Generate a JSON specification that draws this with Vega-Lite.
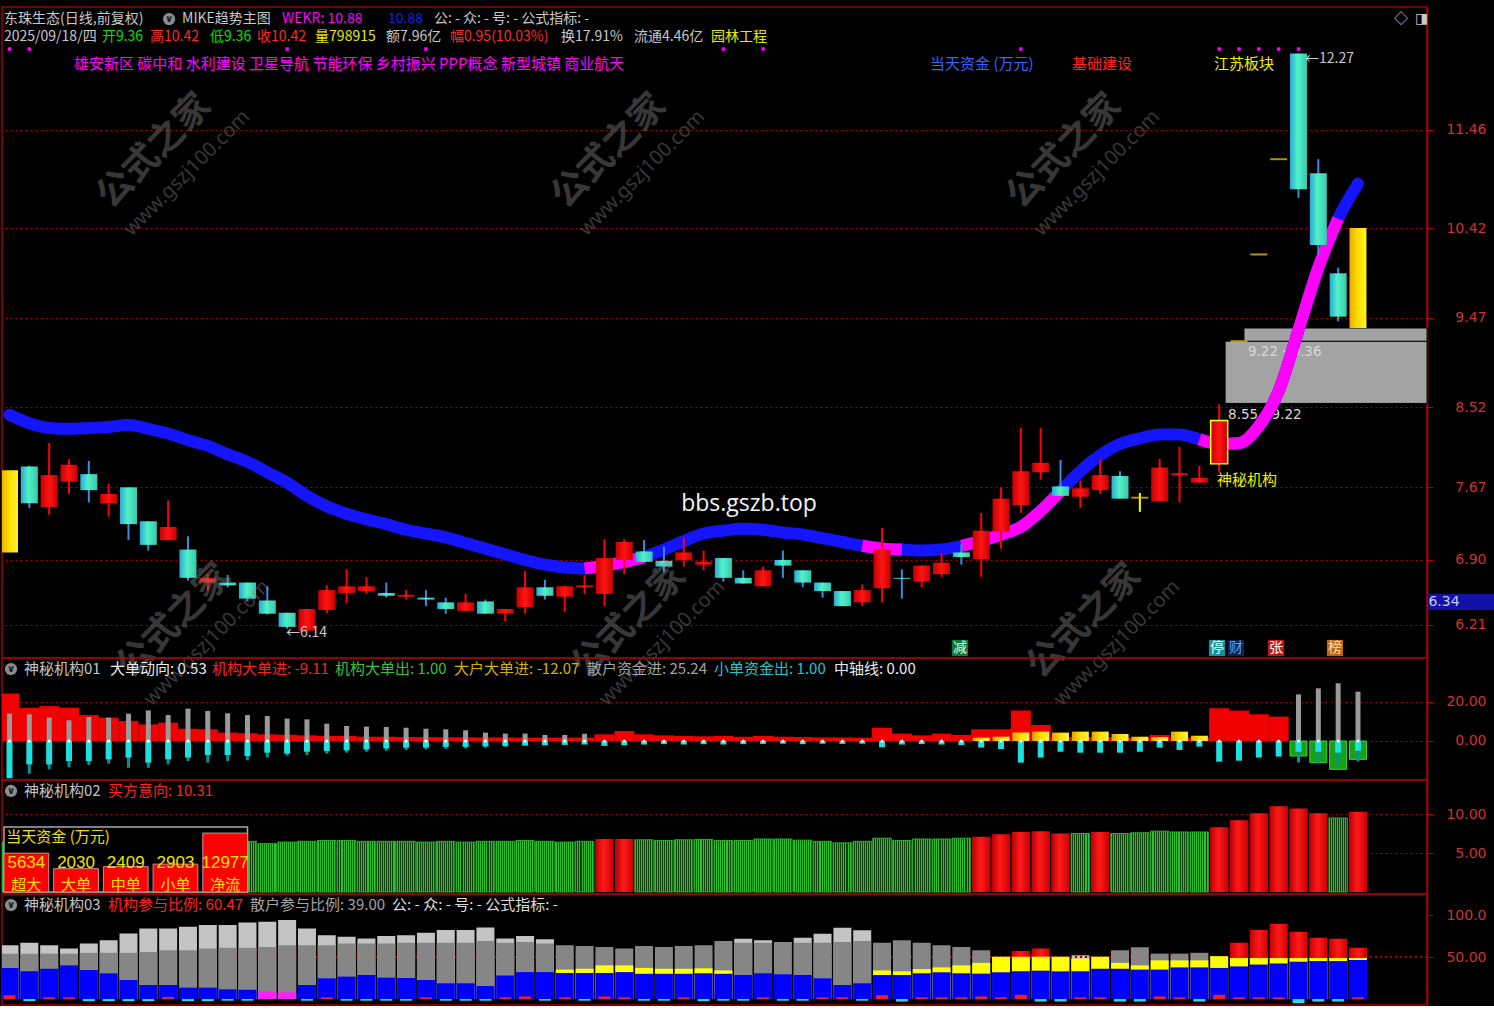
{
"$schema":"https://vega.github.io/schema/vega-lite/v6.json",
"background":"#000000",
"padding":{"left":0,"top":6,"right":0,"bottom":0},
"bounds":"flush",
"spacing":0,
"config":{
 "view":{"stroke":"#a00000","strokeWidth":1.5},
 "scale":{"continuousPadding":0},
 "axis":{"labelColor":"#d03030","labelFont":"DejaVu Sans","labelFontSize":14,"domainColor":"#b00000","domainWidth":1.5,"tickColor":"#b00000","tickSize":6,"gridColor":"#a80000","gridDash":[2,3],"gridWidth":1,"labelAlign":"right","labelPadding":53},
 "text":{"font":"Noto Sans CJK SC"}
},
"datasets":{
 "candles":[
  {"i":0,"o":6.98,"h":7.85,"l":6.98,"c":7.85,"t":"gold"},
  {"i":1,"o":7.89,"h":7.90,"l":7.45,"c":7.50,"t":"down"},
  {"i":2,"o":7.46,"h":8.14,"l":7.38,"c":7.80,"t":"up"},
  {"i":3,"o":7.73,"h":7.97,"l":7.60,"c":7.91,"t":"up"},
  {"i":4,"o":7.81,"h":7.95,"l":7.51,"c":7.64,"t":"down"},
  {"i":5,"o":7.50,"h":7.71,"l":7.36,"c":7.60,"t":"up"},
  {"i":6,"o":7.67,"h":7.67,"l":7.11,"c":7.28,"t":"down"},
  {"i":7,"o":7.31,"h":7.31,"l":7.00,"c":7.06,"t":"down"},
  {"i":8,"o":7.11,"h":7.53,"l":7.11,"c":7.25,"t":"up"},
  {"i":9,"o":7.01,"h":7.15,"l":6.68,"c":6.71,"t":"down"},
  {"i":10,"o":6.66,"h":6.75,"l":6.58,"c":6.71,"t":"up"},
  {"i":11,"o":6.66,"h":6.74,"l":6.61,"c":6.63,"t":"down"},
  {"i":12,"o":6.66,"h":6.66,"l":6.46,"c":6.49,"t":"down"},
  {"i":13,"o":6.47,"h":6.62,"l":6.32,"c":6.33,"t":"down"},
  {"i":14,"o":6.34,"h":6.34,"l":6.17,"c":6.19,"t":"down"},
  {"i":15,"o":6.15,"h":6.38,"l":6.14,"c":6.38,"t":"up"},
  {"i":16,"o":6.37,"h":6.63,"l":6.34,"c":6.58,"t":"up"},
  {"i":17,"o":6.55,"h":6.80,"l":6.44,"c":6.62,"t":"up"},
  {"i":18,"o":6.57,"h":6.72,"l":6.54,"c":6.62,"t":"up"},
  {"i":19,"o":6.55,"h":6.66,"l":6.50,"c":6.52,"t":"down"},
  {"i":20,"o":6.51,"h":6.58,"l":6.48,"c":6.53,"t":"up"},
  {"i":21,"o":6.50,"h":6.58,"l":6.41,"c":6.48,"t":"down"},
  {"i":22,"o":6.45,"h":6.50,"l":6.33,"c":6.38,"t":"down"},
  {"i":23,"o":6.36,"h":6.54,"l":6.36,"c":6.45,"t":"up"},
  {"i":24,"o":6.46,"h":6.48,"l":6.33,"c":6.33,"t":"down"},
  {"i":25,"o":6.33,"h":6.38,"l":6.25,"c":6.38,"t":"up"},
  {"i":26,"o":6.40,"h":6.78,"l":6.33,"c":6.61,"t":"up"},
  {"i":27,"o":6.61,"h":6.69,"l":6.48,"c":6.52,"t":"down"},
  {"i":28,"o":6.51,"h":6.62,"l":6.35,"c":6.62,"t":"up"},
  {"i":29,"o":6.61,"h":6.74,"l":6.54,"c":6.63,"t":"up"},
  {"i":30,"o":6.54,"h":7.12,"l":6.41,"c":6.92,"t":"up"},
  {"i":31,"o":6.90,"h":7.12,"l":6.75,"c":7.09,"t":"up"},
  {"i":32,"o":6.99,"h":7.11,"l":6.88,"c":6.88,"t":"down"},
  {"i":33,"o":6.89,"h":7.04,"l":6.77,"c":6.83,"t":"down"},
  {"i":34,"o":6.90,"h":7.14,"l":6.83,"c":6.98,"t":"up"},
  {"i":35,"o":6.85,"h":7.00,"l":6.79,"c":6.88,"t":"up"},
  {"i":36,"o":6.92,"h":6.92,"l":6.67,"c":6.71,"t":"down"},
  {"i":37,"o":6.71,"h":6.79,"l":6.65,"c":6.65,"t":"down"},
  {"i":38,"o":6.62,"h":6.83,"l":6.62,"c":6.79,"t":"up"},
  {"i":39,"o":6.90,"h":7.00,"l":6.71,"c":6.84,"t":"down"},
  {"i":40,"o":6.79,"h":6.79,"l":6.61,"c":6.66,"t":"down"},
  {"i":41,"o":6.66,"h":6.66,"l":6.50,"c":6.57,"t":"down"},
  {"i":42,"o":6.57,"h":6.57,"l":6.41,"c":6.41,"t":"down"},
  {"i":43,"o":6.45,"h":6.64,"l":6.41,"c":6.58,"t":"up"},
  {"i":44,"o":6.60,"h":7.24,"l":6.45,"c":7.01,"t":"up"},
  {"i":45,"o":6.71,"h":6.80,"l":6.49,"c":6.70,"t":"down"},
  {"i":46,"o":6.67,"h":6.84,"l":6.61,"c":6.84,"t":"up"},
  {"i":47,"o":6.75,"h":6.97,"l":6.72,"c":6.87,"t":"up"},
  {"i":48,"o":6.98,"h":7.07,"l":6.85,"c":6.93,"t":"down"},
  {"i":49,"o":6.91,"h":7.40,"l":6.72,"c":7.21,"t":"up"},
  {"i":50,"o":7.20,"h":7.67,"l":7.02,"c":7.55,"t":"up"},
  {"i":51,"o":7.48,"h":8.30,"l":7.40,"c":7.84,"t":"up"},
  {"i":52,"o":7.83,"h":8.30,"l":7.75,"c":7.93,"t":"up"},
  {"i":53,"o":7.68,"h":7.96,"l":7.58,"c":7.58,"t":"down"},
  {"i":54,"o":7.57,"h":7.74,"l":7.45,"c":7.66,"t":"up"},
  {"i":55,"o":7.64,"h":7.96,"l":7.60,"c":7.80,"t":"up"},
  {"i":56,"o":7.79,"h":7.84,"l":7.55,"c":7.55,"t":"down"},
  {"i":57,"o":7.56,"h":7.61,"l":7.41,"c":7.56,"t":"doji"},
  {"i":58,"o":7.52,"h":7.97,"l":7.52,"c":7.88,"t":"up"},
  {"i":59,"o":7.80,"h":8.10,"l":7.51,"c":7.82,"t":"up"},
  {"i":60,"o":7.72,"h":7.90,"l":7.72,"c":7.77,"t":"up"},
  {"i":61,"o":7.92,"h":8.55,"l":7.83,"c":8.38,"t":"up"},
  {"i":62,"o":9.22,"h":9.22,"l":9.22,"c":9.22,"t":"flat"},
  {"i":63,"o":10.14,"h":10.14,"l":10.14,"c":10.14,"t":"flat"},
  {"i":64,"o":11.15,"h":11.15,"l":11.15,"c":11.15,"t":"flat"},
  {"i":65,"o":12.27,"h":12.27,"l":10.74,"c":10.83,"t":"down"},
  {"i":66,"o":11.00,"h":11.15,"l":10.14,"c":10.24,"t":"down"},
  {"i":67,"o":9.94,"h":10.00,"l":9.43,"c":9.48,"t":"down"},
  {"i":68,"o":9.36,"h":10.42,"l":9.36,"c":10.42,"t":"gold"}
 ],
 "ma":[
  {"i":0,"v":8.44},{"i":1,"v":8.35},{"i":2,"v":8.30},{"i":3,"v":8.29},{"i":4,"v":8.30},{"i":5,"v":8.31},{"i":6,"v":8.33},{"i":7,"v":8.29},{"i":8,"v":8.24},{"i":9,"v":8.17},
  {"i":10,"v":8.11},{"i":11,"v":8.02},{"i":12,"v":7.94},{"i":13,"v":7.83},{"i":14,"v":7.72},{"i":15,"v":7.58},{"i":16,"v":7.47},{"i":17,"v":7.39},{"i":18,"v":7.33},{"i":19,"v":7.28},
  {"i":20,"v":7.22},{"i":21,"v":7.18},{"i":22,"v":7.14},{"i":23,"v":7.08},{"i":24,"v":7.02},{"i":25,"v":6.96},{"i":26,"v":6.90},{"i":27,"v":6.85},{"i":28,"v":6.82},
  {"i":29,"v":6.81,"s":"a"},{"i":30,"v":6.84,"s":"a"},{"i":31,"v":6.88,"s":"a"},{"i":32,"v":6.93,"s":"a"},
  {"i":33,"v":7.01},{"i":34,"v":7.10},{"i":35,"v":7.18},{"i":36,"v":7.21},{"i":37,"v":7.23},{"i":38,"v":7.22},{"i":39,"v":7.19},{"i":40,"v":7.17},{"i":41,"v":7.13},{"i":42,"v":7.09},
  {"i":43,"v":7.05,"s":"b"},{"i":44,"v":7.02,"s":"b"},{"i":45,"v":7.01,"s":"b"},
  {"i":46,"v":7.00},{"i":47,"v":7.01},
  {"i":48,"v":7.05,"s":"c"},{"i":49,"v":7.10,"s":"c"},{"i":50,"v":7.17,"s":"c"},{"i":51,"v":7.25,"s":"c"},{"i":52,"v":7.42,"s":"c"},{"i":53,"v":7.63,"s":"c"},
  {"i":54,"v":7.84},{"i":55,"v":8.01},{"i":56,"v":8.13},{"i":57,"v":8.19},{"i":58,"v":8.23},{"i":59,"v":8.23},
  {"i":60,"v":8.18,"s":"d"},{"i":61,"v":8.13,"s":"d"},{"i":62,"v":8.14,"s":"d"},{"i":63,"v":8.32,"s":"d"},{"i":64,"v":8.69,"s":"d"},{"i":65,"v":9.34,"s":"d"},{"i":66,"v":10.0,"s":"d"},{"i":67,"v":10.52,"s":"d"},
  {"i":68,"v":10.89}
 ],
 "gaps":[{"i":61.3,"i2":71.48,"lo":8.56,"hi":9.22},{"i":62.25,"i2":71.48,"lo":9.22,"hi":9.36}],
 "gapText":[{"t":"8.55 - 9.22","i":61.45,"p":8.437},{"t":"9.22 - 9.36","i":62.45,"p":9.105}],
 "hdr":[
  {"t":"东珠生态(日线,前复权)","i":-0.277,"p":12.636,"k":"info"},
  {"t":"MIKE趋势主图","i":8.70,"p":12.636,"k":"info"},
  {"t":"WEKR: 10.88","i":13.74,"p":12.636,"k":"mag"},
  {"t":"10.88","i":19.09,"p":12.636,"k":"blue"},
  {"t":"公: - 众: - 号: - 公式指标: -","i":21.41,"p":12.636,"k":"info"},
  {"t":"2025/09/18/四","i":-0.277,"p":12.445,"k":"info"},
  {"t":"开9.36","i":4.66,"p":12.445,"k":"fall"},
  {"t":"高10.42","i":7.085,"p":12.445,"k":"rise"},
  {"t":"低9.36","i":10.11,"p":12.445,"k":"fall"},
  {"t":"收10.42","i":12.48,"p":12.445,"k":"rise"},
  {"t":"量798915","i":15.41,"p":12.445,"k":"gold"},
  {"t":"额7.96亿","i":18.99,"p":12.445,"k":"info"},
  {"t":"幅0.95(10.03%)","i":22.21,"p":12.445,"k":"rise"},
  {"t":"换17.91%","i":27.81,"p":12.445,"k":"info"},
  {"t":"流通4.46亿","i":31.49,"p":12.445,"k":"info"},
  {"t":"园林工程","i":35.37,"p":12.445,"k":"gold"},
  {"t":"←12.27","i":65.33,"p":12.21,"k":"info"},
  {"t":"←6.14","i":13.94,"p":6.125,"k":"info"},
  {"t":"◇","i":69.82,"p":12.636,"k":"info"},
  {"t":"◨","i":70.88,"p":12.636,"k":"info"}
 ],
 "tags":[
  {"t":"雄安新区 碳中和 水利建设 卫星导航 节能环保 乡村振兴 PPP概念 新型城镇 商业航天","i":3.25,"p":12.159,"k":"mag"},
  {"t":"当天资金 (万元)","i":46.42,"p":12.159,"k":"fund"},
  {"t":"基础建设","i":53.58,"p":12.159,"k":"rise"},
  {"t":"江苏板块","i":60.74,"p":12.159,"k":"gold"},
  {"t":"神秘机构","i":60.89,"p":7.748,"k":"gold"}
 ],
 "bbs":[{"t":"bbs.gszb.top","i":37.29,"p":7.493}],
 "dots":[{"i":0},{"i":1},{"i":14},{"i":21},{"i":36},{"i":38},{"i":51},{"i":61},{"i":62},{"i":63},{"i":64},{"i":65}],
 "sig":[{"t":"减","i":47.93,"k":"reduce"},{"t":"停","i":60.89,"k":"halt"},{"t":"财","i":61.85,"k":"fin"},{"t":"张","i":63.87,"k":"up"},{"t":"榜","i":66.84,"k":"list"}],
 "wmBig":[{"t":"公式之家","i":7.29,"p":11.237},{"t":"公式之家","i":30.23,"p":11.237},{"t":"公式之家","i":53.18,"p":11.237},{"t":"公式之家","i":8.30,"p":6.253},{"t":"公式之家","i":31.24,"p":6.253},{"t":"公式之家","i":54.19,"p":6.253}],
 "wmUrl":[{"t":"www.gszj100.com","i":8.95,"p":11.003},{"t":"www.gszj100.com","i":31.90,"p":11.003},{"t":"www.gszj100.com","i":54.84,"p":11.003},{"t":"www.gszj100.com","i":9.96,"p":6.019},{"t":"www.gszj100.com","i":32.91,"p":6.019},{"t":"www.gszj100.com","i":55.85,"p":6.019}],
 "cursor":[{"i":71.55,"i2":74.9,"lo":6.369,"hi":6.539,"t":"6.34","m":6.454}],
 "p1":[
  {"i":0,"r":24.3,"g":14.0,"c":-19.1},
  {"i":1,"r":17.1,"g":13.7,"c":-12.0,"d":-16.8},
  {"i":2,"r":17.9,"g":12.0,"c":-12.0,"d":-14.5},
  {"i":3,"r":17.1,"g":10.6,"c":-10.3,"d":-13.5},
  {"i":4,"r":13.3,"g":12.3,"c":-10.3,"d":-12.3},
  {"i":5,"r":12.0,"g":12.0,"c":-9.4,"d":-11.6},
  {"i":6,"r":10.3,"g":14.0,"c":-8.5,"d":-13.7},
  {"i":7,"r":8.5,"g":15.7,"c":-11.1,"d":-13.7},
  {"i":8,"r":9.4,"g":13.3,"c":-9.4,"d":-12.0},
  {"i":9,"r":6.3,"g":16.6,"c":-8.5,"d":-10.3},
  {"i":10,"r":6.0,"g":15.4,"c":-7.2,"d":-11.1},
  {"i":11,"r":4.3,"g":14.2,"c":-7.2,"d":-10.3},
  {"i":12,"r":4.0,"g":13.3,"c":-7.7,"d":-9.9},
  {"i":13,"r":3.4,"g":12.8,"c":-6.0,"d":-8.5},
  {"i":14,"r":3.2,"g":11.5,"c":-6.5,"d":-7.5},
  {"i":15,"r":2.9,"g":11.1,"c":-5.5,"d":-7.2},
  {"i":16,"r":2.6,"g":8.9,"c":-5.1,"d":-6.5},
  {"i":17,"r":2.6,"g":7.7,"c":-4.8,"d":-6.0},
  {"i":18,"r":2.2,"g":7.4,"c":-4.3,"d":-5.5},
  {"i":19,"r":2.2,"g":7.2,"c":-3.8,"d":-5.0},
  {"i":20,"r":2.0,"g":6.8,"c":-3.4,"d":-4.6},
  {"i":21,"r":2.0,"g":6.3,"c":-3.4,"d":-4.3},
  {"i":22,"r":1.9,"g":6.0,"c":-3.0,"d":-4.0},
  {"i":23,"r":1.9,"g":5.5,"c":-3.0,"d":-3.8},
  {"i":24,"r":1.8,"g":4.3,"c":-2.8,"d":-3.4},
  {"i":25,"r":1.8,"g":3.8,"c":-2.6,"d":-3.0},
  {"i":26,"r":1.7,"g":3.8,"c":-2.4},
  {"i":27,"r":1.7,"g":3.1,"c":-2.2},
  {"i":28,"r":1.7,"g":3.1,"c":-2.0},
  {"i":29,"r":1.7,"g":3.7,"c":-1.8},
  {"i":30,"r":3.4,"c":-2.5},
  {"i":31,"r":5.1,"c":-2.2},
  {"i":32,"r":3.4,"c":-1.8},
  {"i":33,"r":2.9,"c":-1.6},
  {"i":34,"r":2.6,"c":-1.8},
  {"i":35,"r":2.4,"c":-1.6},
  {"i":36,"r":2.6,"c":-1.8},
  {"i":37,"r":2.2,"c":-1.6},
  {"i":38,"r":2.6,"c":-1.5},
  {"i":39,"r":2.2,"c":-1.4},
  {"i":40,"r":2.0,"c":-1.6},
  {"i":41,"r":1.8,"c":-1.4},
  {"i":42,"r":1.8,"c":-1.5},
  {"i":43,"r":1.7,"c":-1.4},
  {"i":44,"r":6.8,"c":-3.2},
  {"i":45,"r":3.8,"c":-1.8},
  {"i":46,"r":2.9,"c":-1.6},
  {"i":47,"r":3.8,"c":-1.8},
  {"i":48,"r":3.1,"c":-2.1},
  {"i":49,"r":6.0,"yb":1.7,"c":-3.4},
  {"i":50,"r":6.0,"yb":2.2,"c":-4.1},
  {"i":51,"r":15.6,"yb":4.3,"c":-11.1},
  {"i":52,"r":8.2,"yb":4.8,"c":-8.5},
  {"i":53,"r":2.0,"yb":4.3,"c":-5.5},
  {"i":54,"r":2.0,"yb":4.8,"c":-6.0},
  {"i":55,"r":2.0,"yb":4.8,"c":-6.0},
  {"i":56,"r":1.8,"yb":3.6,"c":-6.0},
  {"i":57,"r":1.5,"yb":2.2,"c":-5.5},
  {"i":58,"r":3.1,"yb":2.0,"c":-3.4},
  {"i":59,"r":1.8,"yb":4.8,"c":-4.6},
  {"i":60,"r":1.5,"yb":2.7,"c":-2.9},
  {"i":61,"r":16.8,"c":-10.6},
  {"i":62,"r":15.6,"c":-10.1},
  {"i":63,"r":13.7,"c":-8.5},
  {"i":64,"r":12.5,"c":-8.0},
  {"i":65,"g":23.9,"gn":-7.7,"c":-5.5,"d":-11.0},
  {"i":66,"g":27.0,"gn":-11.1,"c":-5.5,"d":-11.5},
  {"i":67,"g":29.6,"gn":-14.5,"c":-6.0,"d":-12.5},
  {"i":68,"g":25.3,"gn":-9.4,"c":-5.0,"d":-10.5}
 ],
 "p1text":[{"t":"神秘机构01","i":0.731,"k":"title"},{"t":"大单动向: 0.53","i":5.07,"k":"white"},{"t":"机构大单进: -9.11","i":10.21,"k":"red"},{"t":"机构大单出: 1.00","i":16.41,"k":"green"},{"t":"大户大单进: -12.07","i":22.42,"k":"gold"},{"t":"散户资金进: 25.24","i":29.12,"k":"gray"},{"t":"小单资金出: 1.00","i":35.53,"k":"cyan"},{"t":"中轴线: 0.00","i":41.58,"k":"white"}],
 "p2":[
  {"i":0,"v":6.4,"k":"g"},{"i":1,"v":6.4,"k":"g"},{"i":2,"v":6.4,"k":"g"},{"i":3,"v":6.4,"k":"g"},{"i":4,"v":6.4,"k":"g"},{"i":5,"v":6.4,"k":"g"},{"i":6,"v":6.4,"k":"g"},{"i":7,"v":6.4,"k":"g"},{"i":8,"v":6.4,"k":"g"},{"i":9,"v":6.4,"k":"g"},{"i":10,"v":6.4,"k":"g"},{"i":11,"v":6.4,"k":"g"},
  {"i":12,"v":6.5,"k":"g"},{"i":13,"v":6.2,"k":"g"},{"i":14,"v":6.4,"k":"g"},{"i":15,"v":6.5,"k":"g"},{"i":16,"v":6.6,"k":"g"},{"i":17,"v":6.6,"k":"g"},{"i":18,"v":6.5,"k":"g"},{"i":19,"v":6.5,"k":"g"},{"i":20,"v":6.5,"k":"g"},{"i":21,"v":6.4,"k":"g"},
  {"i":22,"v":6.5,"k":"g"},{"i":23,"v":6.4,"k":"g"},{"i":24,"v":6.5,"k":"g"},{"i":25,"v":6.5,"k":"g"},{"i":26,"v":6.6,"k":"g"},{"i":27,"v":6.5,"k":"g"},{"i":28,"v":6.4,"k":"g"},{"i":29,"v":6.5,"k":"g"},
  {"i":30,"v":6.8,"k":"r"},{"i":31,"v":6.8,"k":"r"},{"i":32,"v":6.7,"k":"g"},{"i":33,"v":6.6,"k":"g"},{"i":34,"v":6.7,"k":"g"},{"i":35,"v":6.75,"k":"g"},{"i":36,"v":6.6,"k":"g"},{"i":37,"v":6.6,"k":"g"},{"i":38,"v":6.8,"k":"g"},{"i":39,"v":6.8,"k":"g"},
  {"i":40,"v":6.65,"k":"g"},{"i":41,"v":6.5,"k":"g"},{"i":42,"v":6.3,"k":"g"},{"i":43,"v":6.5,"k":"g"},{"i":44,"v":6.9,"k":"g"},{"i":45,"v":6.6,"k":"g"},{"i":46,"v":6.8,"k":"g"},{"i":47,"v":6.8,"k":"g"},{"i":48,"v":6.9,"k":"g"},
  {"i":49,"v":7.1,"k":"r"},{"i":50,"v":7.4,"k":"r"},{"i":51,"v":7.7,"k":"r"},{"i":52,"v":7.8,"k":"r"},{"i":53,"v":7.5,"k":"r"},{"i":54,"v":7.5,"k":"g"},{"i":55,"v":7.7,"k":"r"},{"i":56,"v":7.5,"k":"g"},{"i":57,"v":7.6,"k":"g"},{"i":58,"v":7.8,"k":"g"},{"i":59,"v":7.7,"k":"g"},{"i":60,"v":7.7,"k":"g"},
  {"i":61,"v":8.3,"k":"r"},{"i":62,"v":9.2,"k":"r"},{"i":63,"v":10.1,"k":"r"},{"i":64,"v":11.0,"k":"r"},{"i":65,"v":10.7,"k":"r"},{"i":66,"v":10.1,"k":"r"},{"i":67,"v":9.5,"k":"g"},{"i":68,"v":10.3,"k":"r"}
 ],
 "p2text":[{"t":"神秘机构02","i":0.731,"k":"title"},{"t":"买方意向: 10.31","i":4.97,"k":"red"}],
 "mini":[{"k":"超大","v":5634},{"k":"大单","v":2030},{"k":"中单","v":2409},{"k":"小单","v":2903},{"k":"净流","v":12977}],
 "p3":[
  {"i":0,"b":37,"g":54,"l":64,"mk":"r","mv":4.5},
  {"i":1,"b":33,"g":54,"l":67,"mk":"c","mv":-2.5},
  {"i":2,"b":36,"g":54,"l":64,"mk":"r","mv":2},
  {"i":3,"b":40,"g":54,"l":60,"mk":"r","mv":2},
  {"i":4,"b":34.5,"g":55,"l":66,"mk":"c","mv":-2.5},
  {"i":5,"b":30.5,"g":55,"l":70,"mk":"c","mv":-2.5},
  {"i":6,"b":22.6,"g":55,"l":78,"mk":"c","mv":-2.5},
  {"i":7,"b":16.7,"g":56,"l":84,"mk":"c","mv":-2.5},
  {"i":8,"b":16.7,"g":58,"l":84,"mk":"r","mv":2.5},
  {"i":9,"b":13.5,"g":58,"l":86,"mk":"c","mv":-2.5},
  {"i":10,"b":13.5,"g":60,"l":88,"mk":"c","mv":-2.5},
  {"i":11,"b":11.5,"g":61,"l":88,"mk":"c","mv":-2},
  {"i":12,"b":11,"g":61,"l":91,"mk":"c","mv":-2},
  {"i":13,"g":62,"l":92,"mk":"m","mv":9.5},
  {"i":14,"g":64,"l":94,"mk":"m","mv":8},
  {"i":15,"b":16.7,"g":64,"l":84,"mk":"c","mv":-2},
  {"i":16,"b":24.6,"g":64,"l":76,"mk":"r","mv":2},
  {"i":17,"b":26.6,"g":66,"l":74,"mk":"c","mv":-2},
  {"i":18,"b":28.6,"g":66,"l":72,"mk":"c","mv":-2},
  {"i":19,"b":25.4,"g":66,"l":75,"mk":"c","mv":-2},
  {"i":20,"b":25,"g":67,"l":76,"mk":"c","mv":-2},
  {"i":21,"b":22.6,"g":67,"l":79,"mk":"r","mv":2},
  {"i":22,"b":18.7,"g":67,"l":82,"mk":"c","mv":-2},
  {"i":23,"b":18.7,"g":67,"l":82,"mk":"c","mv":-2},
  {"i":24,"b":15.5,"g":69,"l":85,"mk":"c","mv":-2},
  {"i":25,"b":28,"g":67,"l":72,"mk":"r","mv":2},
  {"i":26,"b":32,"g":68,"l":75,"mk":"r","mv":3},
  {"i":27,"b":32,"g":66,"l":71,"mk":"c","mv":-2},
  {"i":28,"b":31,"y":35,"g":64,"mk":"r","mv":2},
  {"i":29,"b":31,"y":36,"g":63,"mk":"c","mv":-2},
  {"i":30,"b":31,"y":40,"g":62,"mk":"r","mv":3},
  {"i":31,"b":32,"y":40,"g":60,"mk":"r","mv":2},
  {"i":32,"b":30,"y":37,"g":63,"mk":"c","mv":-2},
  {"i":33,"b":30,"y":36,"g":62,"mk":"c","mv":-2},
  {"i":34,"b":30,"y":36,"g":63,"mk":"r","mv":2},
  {"i":35,"b":30.6,"y":36.5,"g":64,"mk":"c","mv":-2.5},
  {"i":36,"b":30,"y":34,"g":69,"mk":"c","mv":-2},
  {"i":37,"b":28.6,"g":67,"l":71.8,"mk":"c","mv":-2},
  {"i":38,"b":30.6,"g":67,"l":70,"mk":"r","mv":2},
  {"i":39,"b":29.4,"g":68,"mk":"c","mv":-2},
  {"i":40,"b":28.6,"g":67,"l":73,"mk":"c","mv":-2},
  {"i":41,"b":24.6,"g":67,"l":77.8,"mk":"r","mv":2},
  {"i":42,"b":16.7,"g":67.9,"l":84.9,"mk":"r","mv":2},
  {"i":43,"b":18.7,"g":69,"l":81.7,"mk":"c","mv":-2},
  {"i":44,"b":28.6,"y":34,"g":67,"mk":"r","mv":4.5},
  {"i":45,"b":28.6,"y":32.9,"g":69.8,"mk":"c","mv":-3},
  {"i":46,"b":30.6,"y":35.6,"g":67,"mk":"r","mv":2},
  {"i":47,"b":31.8,"y":37.6,"g":64,"mk":"r","mv":2},
  {"i":48,"b":30.6,"y":40,"g":62,"mk":"r","mv":2},
  {"i":49,"b":30.2,"y":43,"g":58,"mk":"r","mv":3},
  {"i":50,"b":31.8,"y":50.4,"mk":"r","mv":2},
  {"i":51,"b":32.9,"y":50.4,"r":57,"mk":"r","mv":5},
  {"i":52,"b":33.7,"y":50.4,"r":60,"mk":"c","mv":-3},
  {"i":53,"b":32.9,"y":50.4,"mk":"c","mv":-3},
  {"i":54,"b":33,"y":48,"l":52,"mk":"r","mv":2},
  {"i":55,"b":36,"y":50.4,"mk":"r","mv":2},
  {"i":56,"b":36,"y":43,"g":58,"mk":"c","mv":-3},
  {"i":57,"b":35,"y":40,"g":61.5,"mk":"c","mv":-3},
  {"i":58,"b":35,"y":46,"g":54,"mk":"r","mv":3},
  {"i":59,"b":37.6,"y":46,"g":54,"mk":"r","mv":2},
  {"i":60,"b":37.6,"y":46,"g":55,"mk":"c","mv":-3},
  {"i":61,"b":37,"y":51,"mk":"r","mv":5},
  {"i":62,"b":38.8,"y":48.8,"r":67,"mk":"r","mv":2},
  {"i":63,"b":41,"y":48.8,"r":82,"mk":"r","mv":2},
  {"i":64,"b":42.3,"y":48.8,"r":89.6,"mk":"r","mv":2},
  {"i":65,"b":44.4,"y":48.8,"r":80,"mk":"c","mv":-5},
  {"i":66,"b":45.2,"y":48.8,"r":73,"mk":"c","mv":-3},
  {"i":67,"b":45.2,"y":48.8,"r":71.8,"mk":"c","mv":-3},
  {"i":68,"b":46.4,"y":48.8,"r":61,"mk":"r","mv":2}
 ],
 "p3text":[{"t":"神秘机构03","i":0.731,"k":"title"},{"t":"机构参与比例: 60.47","i":4.97,"k":"red"},{"t":"散户参与比例: 39.00","i":12.13,"k":"gray"},{"t":"公: - 众: - 号: - 公式指标: -","i":19.29,"k":"white"}]
},
"vconcat":[
 {
  "width":1425,"height":651,
  "resolve":{"scale":{"color":"independent"}},
  "layer":[
   {"data":{"name":"gaps"},"mark":{"type":"rect","fill":"#a3a3a3","stroke":"#000000","strokeWidth":1},
    "encoding":{"x":{"field":"i","type":"quantitative","scale":{"domain":[-0.378,71.48],"nice":false,"zero":false},"axis":null},"x2":{"field":"i2"},
     "y":{"field":"lo","type":"quantitative","scale":{"domain":[5.86,12.764],"nice":false,"zero":false},"axis":{"orient":"right","values":[6.21,6.9,7.67,8.52,9.47,10.42,11.46],"format":".2f","grid":true,"title":null}},"y2":{"field":"hi"}}},
   {"data":{"name":"gapText"},"mark":{"type":"text","align":"left","baseline":"middle","fontSize":13.5,"font":"DejaVu Sans","color":"#d8d8d8"},
    "encoding":{"x":{"field":"i","type":"quantitative","scale":{"domain":[-0.378,71.48],"nice":false,"zero":false},"axis":null},"y":{"field":"p","type":"quantitative","scale":{"domain":[5.86,12.764],"nice":false,"zero":false}},"text":{"field":"t"}}},
   {"data":{"name":"ma"},"mark":{"type":"line","stroke":"#1414ff","strokeWidth":12,"strokeCap":"round","strokeJoin":"round","interpolate":"monotone"},
    "encoding":{"x":{"field":"i","type":"quantitative","scale":{"domain":[-0.378,71.48],"nice":false,"zero":false},"axis":null},"y":{"field":"v","type":"quantitative","scale":{"domain":[5.86,12.764],"nice":false,"zero":false}}}},
   {"data":{"name":"ma"},"transform":[{"filter":"isValid(datum.s)"}],"mark":{"type":"line","stroke":"#ff00ff","strokeWidth":12,"strokeCap":"butt","strokeJoin":"round","interpolate":"monotone"},
    "encoding":{"x":{"field":"i","type":"quantitative","scale":{"domain":[-0.378,71.48],"nice":false,"zero":false},"axis":null},"y":{"field":"v","type":"quantitative","scale":{"domain":[5.86,12.764],"nice":false,"zero":false}},"detail":{"field":"s"}}},
   {"data":{"name":"candles"},"transform":[{"filter":"datum.t != 'flat' && datum.t != 'gold'"}],"mark":{"type":"rule","strokeWidth":2},
    "encoding":{"x":{"field":"i","type":"quantitative","scale":{"domain":[-0.378,71.48],"nice":false,"zero":false},"axis":null},"y":{"field":"l","type":"quantitative","scale":{"domain":[5.86,12.764],"nice":false,"zero":false}},"y2":{"field":"h"},
     "color":{"field":"t","type":"nominal","scale":{"domain":["up","down","doji"],"range":["#ff0000","#3a8ce0","#ffff00"]},"legend":null}}},
   {"data":{"name":"candles"},"transform":[{"filter":"datum.t == 'up'"}],"mark":{"type":"bar","width":17,"clip":true,"fill":{"gradient":"linear","x1":0,"y1":0,"x2":1,"y2":0,"stops":[{"offset":0,"color":"#c80000"},{"offset":0.5,"color":"#ff1414"},{"offset":1,"color":"#c80000"}]}},
    "encoding":{"x":{"field":"i","type":"quantitative","scale":{"domain":[-0.378,71.48],"nice":false,"zero":false},"axis":null},"y":{"field":"o","type":"quantitative","scale":{"domain":[5.86,12.764],"nice":false,"zero":false}},"y2":{"field":"c"}}},
   {"data":{"name":"candles"},"transform":[{"filter":"datum.t == 'down'"}],"mark":{"type":"bar","width":17,"clip":true,"fill":{"gradient":"linear","x1":0,"y1":0,"x2":1,"y2":0,"stops":[{"offset":0,"color":"#2aa8d8"},{"offset":0.45,"color":"#52f2c4"},{"offset":1,"color":"#36c8b4"}]}},
    "encoding":{"x":{"field":"i","type":"quantitative","scale":{"domain":[-0.378,71.48],"nice":false,"zero":false},"axis":null},"y":{"field":"o","type":"quantitative","scale":{"domain":[5.86,12.764],"nice":false,"zero":false}},"y2":{"field":"c"}}},
   {"data":{"name":"candles"},"transform":[{"filter":"datum.t == 'gold'"}],"mark":{"type":"bar","width":17,"clip":true,"fill":{"gradient":"linear","x1":0,"y1":0,"x2":1,"y2":0,"stops":[{"offset":0,"color":"#f0a800"},{"offset":0.5,"color":"#ffe000"},{"offset":1,"color":"#fff030"}]}},
    "encoding":{"x":{"field":"i","type":"quantitative","scale":{"domain":[-0.378,71.48],"nice":false,"zero":false},"axis":null},"y":{"field":"o","type":"quantitative","scale":{"domain":[5.86,12.764],"nice":false,"zero":false}},"y2":{"field":"c"}}},
   {"data":{"name":"candles"},"transform":[{"filter":"datum.t == 'flat' || datum.t == 'doji'"}],"mark":{"type":"tick","orient":"horizontal","size":17,"thickness":2,"color":"#f2d000"},
    "encoding":{"x":{"field":"i","type":"quantitative","scale":{"domain":[-0.378,71.48],"nice":false,"zero":false},"axis":null},"y":{"field":"c","type":"quantitative","scale":{"domain":[5.86,12.764],"nice":false,"zero":false}}}},
   {"data":{"name":"candles"},"transform":[{"filter":"datum.i == 61"}],"mark":{"type":"bar","width":17,"fillOpacity":0,"stroke":"#ffff00","strokeWidth":1.5},
    "encoding":{"x":{"field":"i","type":"quantitative","scale":{"domain":[-0.378,71.48],"nice":false,"zero":false},"axis":null},"y":{"field":"o","type":"quantitative","scale":{"domain":[5.86,12.764],"nice":false,"zero":false}},"y2":{"field":"c"}}},
   {"data":{"name":"hdr"},"mark":{"type":"text","align":"left","baseline":"middle","fontSize":14},
    "encoding":{"x":{"field":"i","type":"quantitative","scale":{"domain":[-0.378,71.48],"nice":false,"zero":false},"axis":null},"y":{"field":"p","type":"quantitative","scale":{"domain":[5.86,12.764],"nice":false,"zero":false}},"text":{"field":"t"},
     "color":{"field":"k","type":"nominal","scale":{"domain":["info","mag","blue","fall","rise","gold","fund"],"range":["#c8c8c8","#ff00ff","#1a1aff","#00e000","#ff2828","#e8e800","#3c64ff"]},"legend":null}}},
   {"data":{"name":"tags"},"mark":{"type":"text","align":"left","baseline":"middle","fontSize":15},
    "encoding":{"x":{"field":"i","type":"quantitative","scale":{"domain":[-0.378,71.48],"nice":false,"zero":false},"axis":null},"y":{"field":"p","type":"quantitative","scale":{"domain":[5.86,12.764],"nice":false,"zero":false}},"text":{"field":"t"},
     "color":{"field":"k","type":"nominal","scale":{"domain":["mag","fund","rise","gold"],"range":["#ff00ff","#3c64ff","#ff2020","#f0f000"]},"legend":null}}},
   {"data":{"values":[{"i":8.05}]},"mark":{"type":"point","shape":"circle","filled":true,"size":150,"color":"#8c8c8c","opacity":1},
    "encoding":{"x":{"field":"i","type":"quantitative","scale":{"domain":[-0.378,71.48],"nice":false,"zero":false},"axis":null},"y":{"datum":12.636,"type":"quantitative","scale":{"domain":[5.86,12.764],"nice":false,"zero":false}}}},
   {"data":{"values":[{"i":8.05}]},"mark":{"type":"text","text":"∨","fontSize":10,"fontWeight":"bold","font":"DejaVu Sans","color":"#1a1a1a","baseline":"middle"},
    "encoding":{"x":{"field":"i","type":"quantitative","scale":{"domain":[-0.378,71.48],"nice":false,"zero":false},"axis":null},"y":{"datum":12.636,"type":"quantitative","scale":{"domain":[5.86,12.764],"nice":false,"zero":false}}}},
   {"data":{"name":"bbs"},"mark":{"type":"text","align":"center","baseline":"middle","fontSize":23,"font":"Open Sans","color":"#f4f4f4"},
    "encoding":{"x":{"field":"i","type":"quantitative","scale":{"domain":[-0.378,71.48],"nice":false,"zero":false},"axis":null},"y":{"field":"p","type":"quantitative","scale":{"domain":[5.86,12.764],"nice":false,"zero":false}},"text":{"field":"t"}}},
   {"data":{"name":"dots"},"mark":{"type":"point","shape":"square","filled":true,"size":12,"color":"#ff00ff","opacity":1},
    "encoding":{"x":{"field":"i","type":"quantitative","scale":{"domain":[-0.378,71.48],"nice":false,"zero":false},"axis":null},"y":{"datum":12.318,"type":"quantitative","scale":{"domain":[5.86,12.764],"nice":false,"zero":false}}}},
   {"data":{"name":"sig"},"mark":{"type":"point","shape":"square","filled":true,"size":260,"opacity":1},
    "encoding":{"x":{"field":"i","type":"quantitative","scale":{"domain":[-0.378,71.48],"nice":false,"zero":false},"axis":null},"y":{"datum":5.966,"type":"quantitative","scale":{"domain":[5.86,12.764],"nice":false,"zero":false}},
     "color":{"field":"k","type":"nominal","scale":{"domain":["reduce","halt","fin","up","list"],"range":["#0b7a3c","#168f98","#0a2450","#c41414","#c0620e"]},"legend":null}}},
   {"data":{"name":"sig"},"mark":{"type":"text","align":"center","baseline":"middle","fontSize":14},
    "encoding":{"x":{"field":"i","type":"quantitative","scale":{"domain":[-0.378,71.48],"nice":false,"zero":false},"axis":null},"y":{"datum":5.966,"type":"quantitative","scale":{"domain":[5.86,12.764],"nice":false,"zero":false}},"text":{"field":"t"},
     "color":{"field":"k","type":"nominal","scale":{"domain":["reduce","halt","fin","up","list"],"range":["#d8ffd8","#ffffff","#5a9cff","#ffffff","#ffe0b0"]},"legend":null}}},
   {"data":{"name":"cursor"},"mark":{"type":"rect","fill":"#1212a8"},
    "encoding":{"x":{"field":"i","type":"quantitative","scale":{"domain":[-0.378,71.48],"nice":false,"zero":false},"axis":null},"x2":{"field":"i2"},"y":{"field":"lo","type":"quantitative","scale":{"domain":[5.86,12.764],"nice":false,"zero":false}},"y2":{"field":"hi"}}},
   {"data":{"name":"cursor"},"mark":{"type":"text","align":"left","baseline":"middle","fontSize":14,"font":"DejaVu Sans","color":"#c8c8ff"},
    "encoding":{"x":{"field":"i","type":"quantitative","scale":{"domain":[-0.378,71.48],"nice":false,"zero":false},"axis":null},"y":{"field":"m","type":"quantitative","scale":{"domain":[5.86,12.764],"nice":false,"zero":false}},"text":{"field":"t"}}},
   {"data":{"name":"wmBig"},"mark":{"type":"text","align":"center","baseline":"middle","angle":-45,"fontSize":36,"fontWeight":"bold","color":"#8a8a8a","opacity":0.4},
    "encoding":{"x":{"field":"i","type":"quantitative","scale":{"domain":[-0.378,71.48],"nice":false,"zero":false},"axis":null},"y":{"field":"p","type":"quantitative","scale":{"domain":[5.86,12.764],"nice":false,"zero":false}},"text":{"field":"t"}}},
   {"data":{"name":"wmUrl"},"mark":{"type":"text","align":"center","baseline":"middle","angle":-45,"fontSize":20,"font":"Noto Sans","color":"#8a8a8a","opacity":0.4},
    "encoding":{"x":{"field":"i","type":"quantitative","scale":{"domain":[-0.378,71.48],"nice":false,"zero":false},"axis":null},"y":{"field":"p","type":"quantitative","scale":{"domain":[5.86,12.764],"nice":false,"zero":false}},"text":{"field":"t"}}}
  ]
 },
 {
  "width":1425,"height":122,
  "resolve":{"scale":{"color":"independent"}},
  "layer":[
   {"data":{"name":"p1"},"mark":{"type":"bar","width":20,"fill":"#f00000","clip":true},
    "encoding":{"x":{"field":"i","type":"quantitative","scale":{"domain":[-0.378,71.48],"nice":false,"zero":false},"axis":null},
     "y":{"field":"r","type":"quantitative","scale":{"domain":[-20,42.56],"nice":false,"zero":false},"axis":{"orient":"right","values":[0,20],"format":".2f","grid":true,"title":null}},"y2":{"datum":0}}},
   {"data":{"name":"p1"},"mark":{"type":"bar","width":17,"clip":true,"fill":{"gradient":"linear","x1":0,"y1":0,"x2":1,"y2":0,"stops":[{"offset":0,"color":"#e0a000"},{"offset":0.5,"color":"#ffe000"},{"offset":1,"color":"#fff040"}]}},
    "encoding":{"x":{"field":"i","type":"quantitative","scale":{"domain":[-0.378,71.48],"nice":false,"zero":false},"axis":null},"y":{"field":"yb","type":"quantitative","scale":{"domain":[-20,42.56],"nice":false,"zero":false}},"y2":{"datum":0}}},
   {"data":{"name":"p1"},"mark":{"type":"bar","width":5,"fill":"#9a9a9a","clip":true},
    "encoding":{"x":{"field":"i","type":"quantitative","scale":{"domain":[-0.378,71.48],"nice":false,"zero":false},"axis":null},"y":{"field":"g","type":"quantitative","scale":{"domain":[-20,42.56],"nice":false,"zero":false}},"y2":{"datum":0}}},
   {"data":{"name":"p1"},"mark":{"type":"bar","width":17,"fill":"#18a018","stroke":"#40d040","strokeWidth":1,"clip":true},
    "encoding":{"x":{"field":"i","type":"quantitative","scale":{"domain":[-0.378,71.48],"nice":false,"zero":false},"axis":null},"y":{"field":"gn","type":"quantitative","scale":{"domain":[-20,42.56],"nice":false,"zero":false}},"y2":{"datum":0}}},
   {"data":{"name":"p1"},"mark":{"type":"bar","width":3,"fill":"#0b8f8f","clip":true},
    "encoding":{"x":{"field":"i","type":"quantitative","scale":{"domain":[-0.378,71.48],"nice":false,"zero":false},"axis":null},"y":{"field":"d","type":"quantitative","scale":{"domain":[-20,42.56],"nice":false,"zero":false}},"y2":{"datum":0}}},
   {"data":{"name":"p1"},"mark":{"type":"bar","width":6,"fill":"#1fe0e0","clip":true},
    "encoding":{"x":{"field":"i","type":"quantitative","scale":{"domain":[-0.378,71.48],"nice":false,"zero":false},"axis":null},"y":{"field":"c","type":"quantitative","scale":{"domain":[-20,42.56],"nice":false,"zero":false}},"y2":{"datum":0}}},
   {"data":{"name":"p1"},"mark":{"type":"point","shape":"circle","filled":true,"size":9,"color":"#ffffff","opacity":1},
    "encoding":{"x":{"field":"i","type":"quantitative","scale":{"domain":[-0.378,71.48],"nice":false,"zero":false},"axis":null},"y":{"datum":0,"type":"quantitative","scale":{"domain":[-20,42.56],"nice":false,"zero":false}}}},
   {"data":{"values":[{"i":0.076}]},"mark":{"type":"point","shape":"circle","filled":true,"size":150,"color":"#8c8c8c","opacity":1},
    "encoding":{"x":{"field":"i","type":"quantitative","scale":{"domain":[-0.378,71.48],"nice":false,"zero":false},"axis":null},"y":{"datum":36.9,"type":"quantitative","scale":{"domain":[-20,42.56],"nice":false,"zero":false}}}},
   {"data":{"values":[{"i":0.076}]},"mark":{"type":"text","text":"∨","fontSize":10,"fontWeight":"bold","font":"DejaVu Sans","color":"#1a1a1a","baseline":"middle"},
    "encoding":{"x":{"field":"i","type":"quantitative","scale":{"domain":[-0.378,71.48],"nice":false,"zero":false},"axis":null},"y":{"datum":36.9,"type":"quantitative","scale":{"domain":[-20,42.56],"nice":false,"zero":false}}}},
   {"data":{"name":"p1text"},"mark":{"type":"text","align":"left","baseline":"middle","fontSize":15},
    "encoding":{"x":{"field":"i","type":"quantitative","scale":{"domain":[-0.378,71.48],"nice":false,"zero":false},"axis":null},"y":{"datum":36.9,"type":"quantitative","scale":{"domain":[-20,42.56],"nice":false,"zero":false}},"text":{"field":"t"},
     "color":{"field":"k","type":"nominal","scale":{"domain":["title","white","red","green","gold","gray","cyan"],"range":["#c4c4c4","#ececec","#ff2020","#3cc03c","#d4b000","#a4a4a4","#1ec8c8"]},"legend":null}}}
  ]
 },
 {
  "width":1425,"height":114,
  "resolve":{"scale":{"x":"independent","y":"independent","color":"independent"}},
  "layer":[
   {"layer":[
    {"data":{"name":"p2"},"transform":[{"filter":"datum.k == 'g'"}],"mark":{"type":"bar","width":18.5,"clip":true,"stroke":"#34c034","strokeWidth":0.8,"fill":{"gradient":"linear","x1":0,"y1":0,"x2":1,"y2":0,"stops":[
      {"offset":0,"color":"#2cc02c"},{"offset":0.0556,"color":"#2cc02c"},{"offset":0.0556,"color":"#0c440c"},{"offset":0.1111,"color":"#0c440c"},
      {"offset":0.1111,"color":"#2cc02c"},{"offset":0.1667,"color":"#2cc02c"},{"offset":0.1667,"color":"#0c440c"},{"offset":0.2222,"color":"#0c440c"},
      {"offset":0.2222,"color":"#2cc02c"},{"offset":0.2778,"color":"#2cc02c"},{"offset":0.2778,"color":"#0c440c"},{"offset":0.3333,"color":"#0c440c"},
      {"offset":0.3333,"color":"#2cc02c"},{"offset":0.3889,"color":"#2cc02c"},{"offset":0.3889,"color":"#0c440c"},{"offset":0.4444,"color":"#0c440c"},
      {"offset":0.4444,"color":"#2cc02c"},{"offset":0.5,"color":"#2cc02c"},{"offset":0.5,"color":"#0c440c"},{"offset":0.5556,"color":"#0c440c"},
      {"offset":0.5556,"color":"#2cc02c"},{"offset":0.6111,"color":"#2cc02c"},{"offset":0.6111,"color":"#0c440c"},{"offset":0.6667,"color":"#0c440c"},
      {"offset":0.6667,"color":"#2cc02c"},{"offset":0.7222,"color":"#2cc02c"},{"offset":0.7222,"color":"#0c440c"},{"offset":0.7778,"color":"#0c440c"},
      {"offset":0.7778,"color":"#2cc02c"},{"offset":0.8333,"color":"#2cc02c"},{"offset":0.8333,"color":"#0c440c"},{"offset":0.8889,"color":"#0c440c"},
      {"offset":0.8889,"color":"#2cc02c"},{"offset":0.9444,"color":"#2cc02c"},{"offset":0.9444,"color":"#0c440c"},{"offset":1,"color":"#0c440c"}]}},
     "encoding":{"x":{"field":"i","type":"quantitative","scale":{"domain":[-0.378,71.48],"nice":false,"zero":false},"axis":null},
      "y":{"field":"v","type":"quantitative","scale":{"domain":[-0.256,14.36],"nice":false,"zero":false},"axis":{"orient":"right","values":[5,10],"format":".2f","grid":true,"title":null}},"y2":{"datum":0}}},
    {"data":{"name":"p2"},"transform":[{"filter":"datum.k == 'r'"}],"mark":{"type":"bar","width":18.5,"clip":true,"fill":{"gradient":"linear","x1":0,"y1":0,"x2":1,"y2":0,"stops":[{"offset":0,"color":"#b80000"},{"offset":0.45,"color":"#ff1a1a"},{"offset":1,"color":"#c80000"}]}},
     "encoding":{"x":{"field":"i","type":"quantitative","scale":{"domain":[-0.378,71.48],"nice":false,"zero":false},"axis":null},"y":{"field":"v","type":"quantitative","scale":{"domain":[-0.256,14.36],"nice":false,"zero":false}},"y2":{"datum":0}}},
    {"data":{"values":[{"i":0.076}]},"mark":{"type":"point","shape":"circle","filled":true,"size":150,"color":"#8c8c8c","opacity":1},
     "encoding":{"x":{"field":"i","type":"quantitative","scale":{"domain":[-0.378,71.48],"nice":false,"zero":false},"axis":null},"y":{"datum":12.95,"type":"quantitative","scale":{"domain":[-0.256,14.36],"nice":false,"zero":false}}}},
    {"data":{"values":[{"i":0.076}]},"mark":{"type":"text","text":"∨","fontSize":10,"fontWeight":"bold","font":"DejaVu Sans","color":"#1a1a1a","baseline":"middle"},
     "encoding":{"x":{"field":"i","type":"quantitative","scale":{"domain":[-0.378,71.48],"nice":false,"zero":false},"axis":null},"y":{"datum":12.95,"type":"quantitative","scale":{"domain":[-0.256,14.36],"nice":false,"zero":false}}}},
    {"data":{"name":"p2text"},"mark":{"type":"text","align":"left","baseline":"middle","fontSize":15},
     "encoding":{"x":{"field":"i","type":"quantitative","scale":{"domain":[-0.378,71.48],"nice":false,"zero":false},"axis":null},"y":{"datum":12.95,"type":"quantitative","scale":{"domain":[-0.256,14.36],"nice":false,"zero":false}},"text":{"field":"t"},
      "color":{"field":"k","type":"nominal","scale":{"domain":["title","red"],"range":["#c4c4c4","#ff2020"]},"legend":null}}}
   ]},
   {"layer":[
    {"data":{"values":[{"a":"超大","b":"净流","top":15800}]},"mark":{"type":"rect","fill":"#000000","stroke":"#a8a8a8","strokeWidth":1.5},
     "encoding":{"x":{"field":"a","type":"nominal","bandPosition":0,"scale":{"domain":["超大","大单","中单","小单","净流"],"range":[-0.5,248],"paddingInner":0.1,"paddingOuter":0.05},"axis":null},"x2":{"field":"b","bandPosition":1},
      "y":{"field":"top","type":"quantitative","scale":{"type":"sqrt","domain":[0,15800],"range":[112,47],"nice":false},"axis":null},"y2":{"datum":0}}},
    {"data":{"name":"mini"},"mark":{"type":"bar","fill":"#ff0000","stroke":"#c89090","strokeWidth":1},
     "encoding":{"x":{"field":"k","type":"nominal","scale":{"domain":["超大","大单","中单","小单","净流"],"range":[-0.5,248],"paddingInner":0.1,"paddingOuter":0.05},"axis":null},
      "y":{"field":"v","type":"quantitative","scale":{"type":"sqrt","domain":[0,15800],"range":[112,47],"nice":false},"axis":null},"y2":{"datum":0}}},
    {"data":{"name":"mini"},"mark":{"type":"text","align":"center","baseline":"middle","dy":-29,"fontSize":17,"font":"Liberation Sans","color":"#f0e000"},
     "encoding":{"x":{"field":"k","type":"nominal","scale":{"domain":["超大","大单","中单","小单","净流"],"range":[-0.5,248],"paddingInner":0.1,"paddingOuter":0.05},"axis":null},
      "y":{"datum":0,"type":"quantitative","scale":{"type":"sqrt","domain":[0,15800],"range":[112,47],"nice":false},"axis":null},"text":{"field":"v"}}},
    {"data":{"name":"mini"},"mark":{"type":"text","align":"center","baseline":"middle","dy":-7,"fontSize":15,"color":"#f0e000"},
     "encoding":{"x":{"field":"k","type":"nominal","scale":{"domain":["超大","大单","中单","小单","净流"],"range":[-0.5,248],"paddingInner":0.1,"paddingOuter":0.05},"axis":null},
      "y":{"datum":0,"type":"quantitative","scale":{"type":"sqrt","domain":[0,15800],"range":[112,47],"nice":false},"axis":null},"text":{"field":"k"}}},
    {"data":{"values":[{"a":"超大","t":"当天资金 (万元)","top":15800}]},"mark":{"type":"text","align":"left","baseline":"middle","dx":-20,"dy":10,"fontSize":15,"color":"#f0e000"},
     "encoding":{"x":{"field":"a","type":"nominal","scale":{"domain":["超大","大单","中单","小单","净流"],"range":[-0.5,248],"paddingInner":0.1,"paddingOuter":0.05},"axis":null},
      "y":{"field":"top","type":"quantitative","scale":{"type":"sqrt","domain":[0,15800],"range":[112,47],"nice":false},"axis":null},"text":{"field":"t"}}}
   ]}
  ]
 },
 {
  "width":1425,"height":111,
  "resolve":{"scale":{"color":"independent"}},
  "layer":[
   {"data":{"name":"p3"},"mark":{"type":"bar","width":18,"fill":"#c4c4c4","clip":true},
    "encoding":{"x":{"field":"i","type":"quantitative","scale":{"domain":[-0.378,71.48],"nice":false,"zero":false},"axis":null},
     "y":{"field":"l","type":"quantitative","scale":{"domain":[-7.14,125],"nice":false,"zero":false},"axis":{"orient":"right","values":[50,100],"labelExpr":"datum.value == 100 ? '100.0' : '50.00'","grid":false,"title":null}},"y2":{"datum":0}}},
   {"data":{"name":"p3"},"mark":{"type":"rule","color":"#a80000","strokeDash":[2,3]},
    "encoding":{"y":{"datum":50,"type":"quantitative","scale":{"domain":[-7.14,125],"nice":false,"zero":false}}}},
   {"data":{"name":"p3"},"mark":{"type":"bar","width":18,"fill":"#868686","clip":true},
    "encoding":{"x":{"field":"i","type":"quantitative","scale":{"domain":[-0.378,71.48],"nice":false,"zero":false},"axis":null},"y":{"field":"g","type":"quantitative","scale":{"domain":[-7.14,125],"nice":false,"zero":false}},"y2":{"datum":0}}},
   {"data":{"name":"p3"},"mark":{"type":"bar","width":18,"clip":true,"fill":{"gradient":"linear","x1":0,"y1":0,"x2":1,"y2":0,"stops":[{"offset":0,"color":"#c80000"},{"offset":0.5,"color":"#ff1a1a"},{"offset":1,"color":"#d00000"}]}},
    "encoding":{"x":{"field":"i","type":"quantitative","scale":{"domain":[-0.378,71.48],"nice":false,"zero":false},"axis":null},"y":{"field":"r","type":"quantitative","scale":{"domain":[-7.14,125],"nice":false,"zero":false}},"y2":{"datum":0}}},
   {"data":{"name":"p3"},"mark":{"type":"bar","width":18,"fill":"#ffff00","clip":true},
    "encoding":{"x":{"field":"i","type":"quantitative","scale":{"domain":[-0.378,71.48],"nice":false,"zero":false},"axis":null},"y":{"field":"y","type":"quantitative","scale":{"domain":[-7.14,125],"nice":false,"zero":false}},"y2":{"datum":0}}},
   {"data":{"name":"p3"},"mark":{"type":"bar","width":18,"fill":"#0000ff","clip":true},
    "encoding":{"x":{"field":"i","type":"quantitative","scale":{"domain":[-0.378,71.48],"nice":false,"zero":false},"axis":null},"y":{"field":"b","type":"quantitative","scale":{"domain":[-7.14,125],"nice":false,"zero":false}},"y2":{"datum":0}}},
   {"data":{"name":"p3"},"transform":[{"filter":"datum.mk != 'm'"}],"mark":{"type":"bar","width":12,"clip":true},
    "encoding":{"x":{"field":"i","type":"quantitative","scale":{"domain":[-0.378,71.48],"nice":false,"zero":false},"axis":null},"y":{"field":"mv","type":"quantitative","scale":{"domain":[-7.14,125],"nice":false,"zero":false}},"y2":{"datum":0},
     "color":{"field":"mk","type":"nominal","scale":{"domain":["r","c"],"range":["#ff1a1a","#22e0e8"]},"legend":null}}},
   {"data":{"name":"p3"},"transform":[{"filter":"datum.mk == 'm'"}],"mark":{"type":"bar","width":18,"fill":"#ff20ff","clip":true},
    "encoding":{"x":{"field":"i","type":"quantitative","scale":{"domain":[-0.378,71.48],"nice":false,"zero":false},"axis":null},"y":{"field":"mv","type":"quantitative","scale":{"domain":[-7.14,125],"nice":false,"zero":false}},"y2":{"datum":0}}},
   {"data":{"values":[{"i":0.076}]},"mark":{"type":"point","shape":"circle","filled":true,"size":150,"color":"#8c8c8c","opacity":1},
    "encoding":{"x":{"field":"i","type":"quantitative","scale":{"domain":[-0.378,71.48],"nice":false,"zero":false},"axis":null},"y":{"datum":111.9,"type":"quantitative","scale":{"domain":[-7.14,125],"nice":false,"zero":false}}}},
   {"data":{"values":[{"i":0.076}]},"mark":{"type":"text","text":"∨","fontSize":10,"fontWeight":"bold","font":"DejaVu Sans","color":"#1a1a1a","baseline":"middle"},
    "encoding":{"x":{"field":"i","type":"quantitative","scale":{"domain":[-0.378,71.48],"nice":false,"zero":false},"axis":null},"y":{"datum":111.9,"type":"quantitative","scale":{"domain":[-7.14,125],"nice":false,"zero":false}}}},
   {"data":{"name":"p3text"},"mark":{"type":"text","align":"left","baseline":"middle","fontSize":15},
    "encoding":{"x":{"field":"i","type":"quantitative","scale":{"domain":[-0.378,71.48],"nice":false,"zero":false},"axis":null},"y":{"datum":111.9,"type":"quantitative","scale":{"domain":[-7.14,125],"nice":false,"zero":false}},"text":{"field":"t"},
     "color":{"field":"k","type":"nominal","scale":{"domain":["title","red","gray","white"],"range":["#c4c4c4","#ff2020","#a4a4a4","#dcdcdc"]},"legend":null}}}
  ]
 }
]
}
